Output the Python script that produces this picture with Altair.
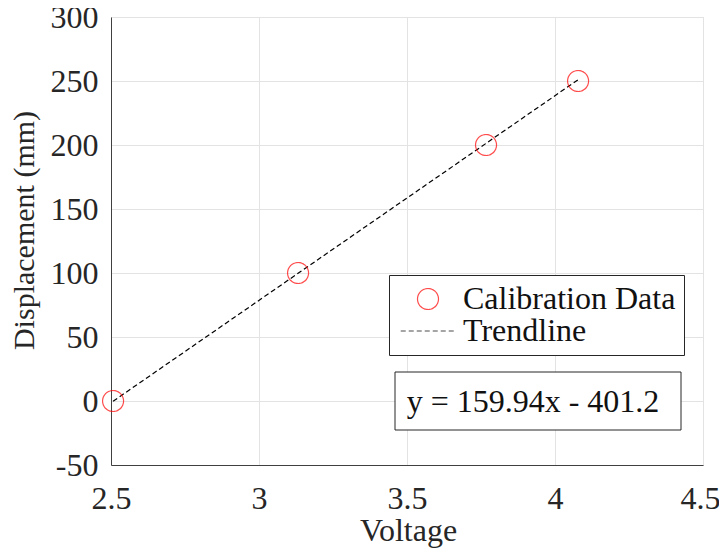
import altair as alt
import pandas as pd

# Data
voltage = [2.507, 3.132, 3.767, 4.078]
displacement = [0, 100, 200, 250]
trend_x = [2.507, 4.078]
trend_y = [-0.2, 251.0]
series = ["Calibration Data", "Trendline"]
slope = 159.94
intercept = -401.2
x_ticks = [2.5, 3, 3.5, 4, 4.5]
y_ticks = [-50, 0, 50, 100, 150, 200, 250, 300]

FONT = "Liberation Serif"
AX = "#404040"
TXT = "#262626"

pts = pd.DataFrame({"Voltage": voltage, "Displacement": displacement, "series": series[0]})
trend = pd.DataFrame({"Voltage": trend_x, "Displacement": trend_y, "series": series[1]})
eq = pd.DataFrame({"label": [f"y = {slope}x - {abs(intercept)}"]})

xscale = alt.Scale(domain=[2.5, 4.5], nice=False, zero=False)
yscale = alt.Scale(domain=[-50, 300], nice=False, zero=False)

xaxis = alt.Axis(values=x_ticks, labelExpr="'' + datum.value", title="Voltage",
                 grid=True, gridColor="#e3e3e3", ticks=False, domainColor=AX,
                 labelFlush=False, labelOverlap=False,
                 labelOffset={"condition": {"test": "datum.value >= 4.5", "value": -3}, "value": 0},
                 labelFont=FONT, labelFontSize=32, labelColor=TXT, labelPadding=18,
                 titleFont=FONT, titleFontSize=32, titleFontWeight="normal", titleColor=TXT,
                 titleX=297, titleY=75, titleBaseline="alphabetic", titleAlign="center")
yaxis = alt.Axis(values=y_ticks, labelExpr="'' + datum.value", title="Displacement (mm)",
                 grid=True, gridColor="#e3e3e3", ticks=False, domainColor=AX,
                 labelFlush=False, labelOverlap=False,
                 labelFont=FONT, labelFontSize=32, labelColor=TXT, labelPadding=13,
                 titleFont=FONT, titleFontSize=30, titleFontWeight="normal", titleColor=TXT,
                 titleX=-87, titleY=213, titleAngle=-90, titleBaseline="middle", titleAlign="center")

legend = alt.Legend(title=None, orient="none", legendX=278, legendY=258,
                    strokeColor=TXT, fillColor="white", padding=8,
                    labelFont=FONT, labelFontSize=32, labelColor="#111111", labelLimit=400,
                    symbolSize=440, symbolStrokeWidth=1.2, symbolOffset=15, labelOffset=19,
                    rowPadding=0, symbolFillColor="transparent")

color = alt.Color("series:N", scale=alt.Scale(domain=series, range=["#ff0000", "#000000"]), legend=legend)
shape = alt.Shape("series:N", scale=alt.Scale(domain=series, range=["circle", "M-2.6,0L2.6,0"]), legend=legend)
dash = alt.StrokeDash("series:N", scale=alt.Scale(domain=series, range=[[1, 0], [5, 3]]), legend=legend)

points = alt.Chart(pts).mark_point(filled=False, size=440, strokeWidth=1.2).encode(
    x=alt.X("Voltage:Q", scale=xscale, axis=xaxis),
    y=alt.Y("Displacement:Q", scale=yscale, axis=yaxis),
    color=color, shape=shape, strokeDash=dash,
)

line = alt.Chart(trend).mark_line(strokeWidth=1.2).encode(
    x=alt.X("Voltage:Q", scale=xscale),
    y=alt.Y("Displacement:Q", scale=yscale),
    color=color, strokeDash=dash,
)

box = alt.Chart(eq).mark_rect(fill="white", stroke=TXT, strokeWidth=1).encode(
    x=alt.value(284), x2=alt.value(570), y=alt.value(355), y2=alt.value(413)
)
eq_text = alt.Chart(eq).mark_text(font=FONT, fontSize=32, color="#111111", align="center",
                                  baseline="middle").encode(
    text="label:N", x=alt.value(422), y=alt.value(385)
)

chart = alt.layer(line, points, box, eq_text).properties(
    width=592, height=448,
    autosize=alt.AutoSizeParams(type="none"),
    padding={"left": 103, "top": 9, "right": 16, "bottom": 83},
).configure_view(stroke=AX, strokeWidth=1).configure(background="white")

chart.save("out.html", embed_options={"renderer": "svg", "actions": False})
